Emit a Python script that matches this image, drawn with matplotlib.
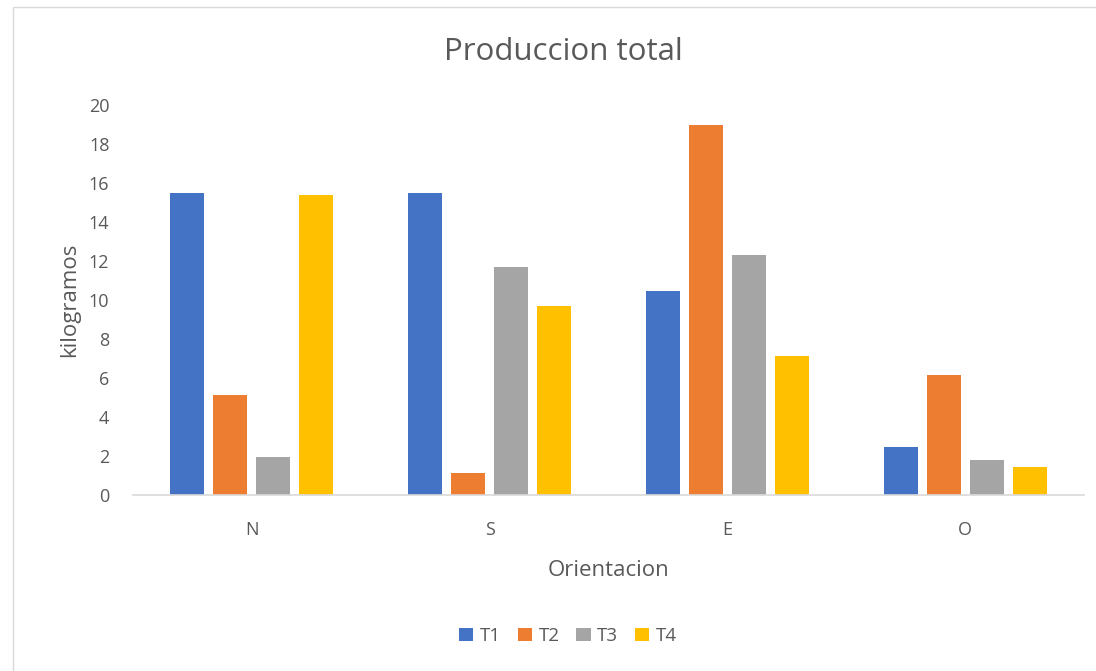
import matplotlib
matplotlib.use("Agg")
import matplotlib.pyplot as plt
import numpy as np
from matplotlib.patches import Rectangle

categories = ["N", "S", "E", "O"]
series_names = ["T1", "T2", "T3", "T4"]
t1 = [15.5, 15.5, 10.45, 2.45]
t2 = [5.15, 1.15, 19.0, 6.15]
t3 = [1.95, 11.7, 12.3, 1.8]
t4 = [15.4, 9.7, 7.15, 1.45]
colors = ["#4472C4", "#ED7D31", "#A5A5A5", "#FFC000"]
yticks = [0, 2, 4, 6, 8, 10, 12, 14, 16, 18, 20]

plt.rcParams["font.family"] = ["Open Sans", "DejaVu Sans"]
text_color = "#595959"

W, H = 1096, 671
fig = plt.figure(figsize=(W / 100, H / 100), dpi=100)
fig.patch.set_facecolor("white")

# chart frame
fig.patches.append(Rectangle((13 / W, -0.1), 1.2, 1 - 7 / H + 0.1,
                             transform=fig.transFigure, fill=False,
                             edgecolor="#D9D9D9", linewidth=1.0))

ax = fig.add_axes([133 / W, (H - 495) / H, (1084 - 133) / W, 390 / H])
x = np.arange(len(categories))
width = 0.143
pitch = 0.181
for i, (vals, name) in enumerate(zip([t1, t2, t3, t4], series_names)):
    ax.bar(x + (i - 1.5) * pitch, vals, width=width, color=colors[i], label=name,
           linewidth=0, zorder=2)

ax.set_xlim(-0.5, len(categories) - 0.5)
ax.set_ylim(0, 20)
ax.set_yticks(yticks)
ax.set_xticks(x)
ax.set_xticklabels(categories)
for s in ["top", "right", "left"]:
    ax.spines[s].set_visible(False)
ax.spines["bottom"].set_color("#D9D9D9")
ax.spines["bottom"].set_linewidth(1.2)
ax.tick_params(axis="both", length=0, colors=text_color, labelsize=13)
ax.tick_params(axis="x", pad=19)
ax.tick_params(axis="y", pad=17)

ax.set_ylabel("kilogramos", fontsize=16, color=text_color, labelpad=6)
ax.set_xlabel("Orientacion", fontsize=16, color=text_color, labelpad=15)

fig.text(563 / W, 1 - 52 / H, "Produccion total", ha="center", va="center",
         fontsize=22.5, color=text_color)

leg = fig.legend(loc="center", bbox_to_anchor=(568 / W, 1 - 636 / H), ncol=4,
                 frameon=False, fontsize=13.5, handlelength=0.75, handleheight=0.75,
                 handletextpad=0.35, columnspacing=0.9, labelcolor=text_color)

fig.savefig("out.png", dpi=100)
